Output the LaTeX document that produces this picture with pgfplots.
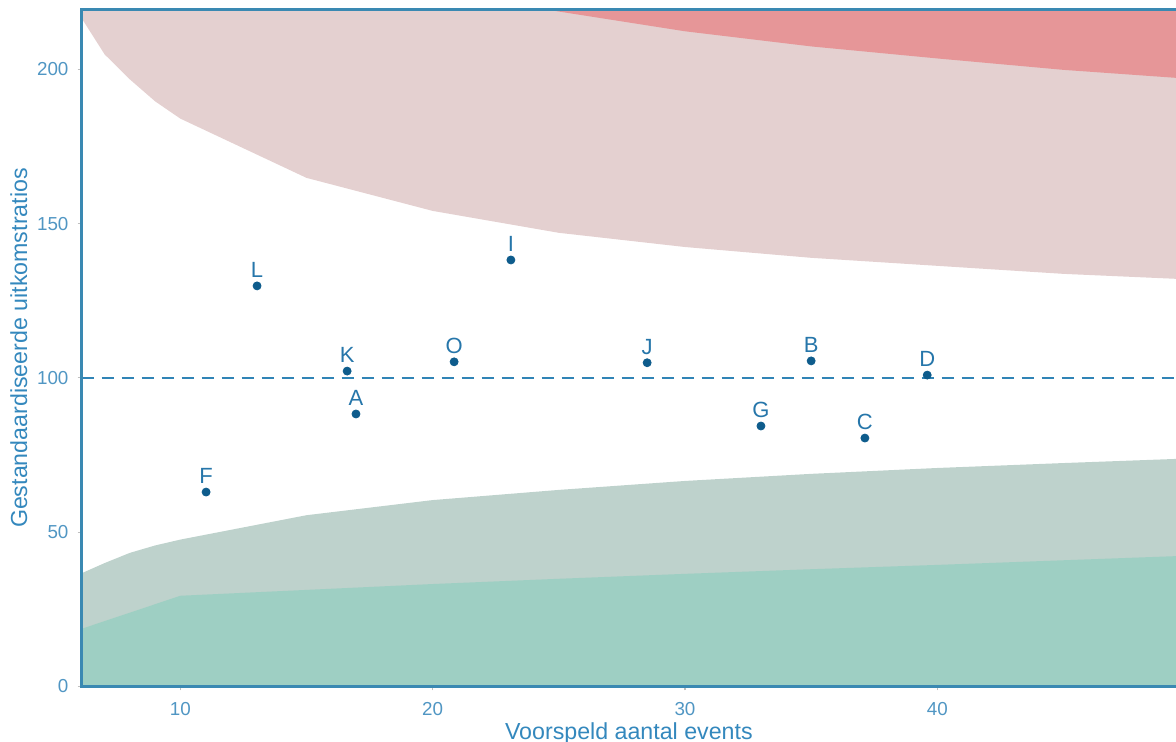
\documentclass[border=0pt]{standalone}
\usepackage{fontspec}
\setmainfont{Liberation Sans}
\usepackage{pgfplots}
\pgfplotsset{compat=1.18}
\definecolor{axisblue}{RGB}{58,137,178}
\definecolor{ticklab}{RGB}{80,150,195}
\definecolor{titleblue}{RGB}{52,136,189}
\definecolor{ptblue}{RGB}{14,92,140}
\definecolor{lblblue}{RGB}{38,118,170}
\definecolor{pinkfill}{RGB}{228,208,208}
\definecolor{redfill}{RGB}{230,150,152}
\definecolor{greyfill}{RGB}{190,210,204}
\definecolor{tealfill}{RGB}{158,207,195}
\definecolor{dashblue}{RGB}{48,132,182}
\begin{document}
\begin{tikzpicture}
\useasboundingbox (0,0) rectangle (588pt,371pt);
\begin{axis}[
  at={(40.85pt,27.75pt)}, anchor=south west,
  scale only axis, width=547.15pt, height=338.4pt,
  xmin=6.09, xmax=49.46, ymin=0, ymax=219.3,
  axis lines*=left, axis line style={draw=none},
  xtick={10,20,30,40}, ytick={0,50,100,150,200},
  tick align=outside, major tick length=2pt,
  tick style={black!25, line width=0.6pt},
  ticklabel style={font=\fontsize{9.4}{10}\selectfont, text=ticklab},
  /pgf/number format/assume math mode=true,
  xticklabel style={yshift=-2.3pt},
  yticklabel style={xshift=-1.1pt},
  xlabel={Voorspeld aantal events},
  ylabel={Gestandaardiseerde uitkomstratios},
  every axis x label/.style={at={([yshift=-26.5pt]axis description cs:0.5,0)}, anchor=base, font=\fontsize{11.6}{13}\selectfont, text=titleblue},
  every axis y label/.style={at={([xshift=-27.3pt]axis description cs:0,0.5)}, rotate=90, anchor=base, font=\fontsize{11.6}{13}\selectfont, text=titleblue},
]
% upper 95% region
\addplot[draw=none, fill=pinkfill] coordinates {
(5.5,260) (5.5,220) (6.09,216.5) (7,204.8) (8,196.7) (9,189.6) (10,184.0) (15,164.8) (20,154.1) (25,147.0) (30,142.4) (35,138.9) (40,136.3) (45,133.7) (50,131.9) (50,260)} -- cycle;
% upper 99.8% region
\addplot[draw=none, fill=redfill] coordinates {
(24.0,260) (24.0,221.0) (24.57,219.3) (25,218.7) (30,212.3) (35,207.4) (40,203.5) (45,199.8) (50,196.9) (50,260)} -- cycle;
% lower 95% region
\addplot[draw=none, fill=greyfill] coordinates {
(5.9,36.0) (6.09,36.7) (7,40.0) (8,43.3) (9,45.7) (10,47.6) (15,55.5) (20,60.4) (25,63.7) (30,66.6) (35,68.9) (40,70.8) (45,72.4) (50,73.9)} \closedcycle;
% lower 99.8% region
\addplot[draw=none, fill=tealfill] coordinates {
(5.9,18.2) (6.09,18.7) (10,29.4) (15,31.3) (20,33.2) (25,34.9) (30,36.5) (35,38.0) (40,39.4) (45,40.9) (50,42.4)} \closedcycle;
% reference line
\addplot[dashblue, line width=1pt, dash pattern=on 6pt off 4pt] coordinates {(6.09,100) (50,100)};
% hospitals
\addplot[only marks, mark=*, mark size=2pt, color=ptblue,
  nodes near coords, point meta=explicit symbolic,
  every node near coord/.append style={font=\fontsize{11}{12}\selectfont, text=lblblue, inner sep=0pt, yshift=4pt}]
  table[meta=lab] {
x y lab
13.04 129.8 L
23.10 138.2 I
16.61 102.2 K
20.85 105.2 O
28.50 104.9 J
35.00 105.5 B
39.60 100.9 D
16.96 88.3 A
33.01 84.4 G
37.13 80.5 C
11.02 63.0 F
};
\end{axis}
\draw[axisblue, line width=1.5pt] (current axis.south east) -- (current axis.south west) -- (current axis.north west) -- (current axis.north east);
\end{tikzpicture}
\end{document}
